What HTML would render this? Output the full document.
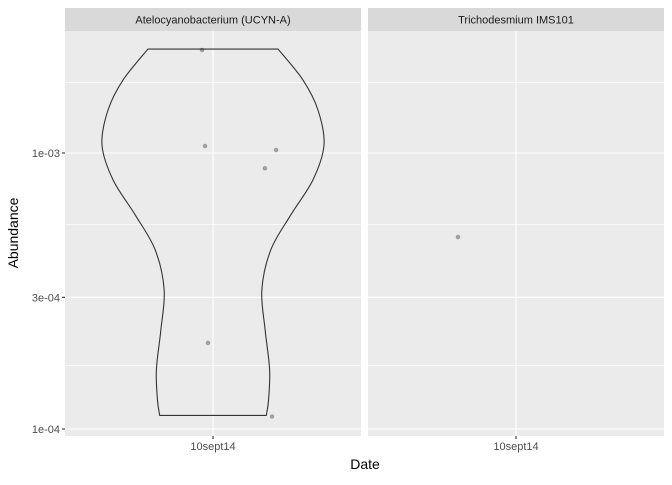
<!DOCTYPE html>
<html><head><meta charset="utf-8"><style>
body{margin:0;background:#fff;font-family:"Liberation Sans",sans-serif}
svg text{font-family:"Liberation Sans",sans-serif}
</style></head><body>
<svg id="c" width="672" height="480" xmlns="http://www.w3.org/2000/svg"></svg>
<script>
const panels=["Atelocyanobacterium (UCYN-A)","Trichodesmium IMS101"];
const category="10sept14";
const yTicks=[1e-4,3e-4,1e-3];
const yTickLabels=["1e-04","3e-04","1e-03"];
const yMinor=[1.7e-4,5.5e-4,1.8e-3];
const pointPanel=[0,0,0,0,0,0,1];
const pointValues=[2.36e-3,1.06e-3,1.025e-3,8.8e-4,2.05e-4,1.11e-4,4.96e-4];
const pointJitter=[-0.074,-0.054,0.426,0.351,-0.034,0.399,-0.392];
const violinValues=[2.38e-3,1.84e-3,1.43e-3,1.07e-3,7.98e-4,5.96e-4,4.45e-4,3.19e-4,2.28e-4,1.64e-4,1.27e-4,1.12e-4];
const violinDensity=[0.586,0.81,0.946,1,0.9,0.70,0.52,0.44,0.47,0.51,0.50,0.48];
const NS="http://www.w3.org/2000/svg",svg=document.getElementById('c');
function el(t,a,p){const e=document.createElementNS(NS,t);for(const k in a)e.setAttribute(k,a[k]);(p||svg).appendChild(e);return e;}
const PX=[65,368],PW=296,PT=31,PB=436;
const y=v=>429-(Math.log10(v)+4)*276;
const xc=i=>PX[i]+PW/2;
const xj=(i,j)=>xc(i)+j*PW/2;
panels.forEach((name,i)=>{
  const g=el('g',{});
  
  
  const strip=el('rect',{x:PX[i],y:8,width:PW,height:PT-8,fill:'#d9d9d9'},g);
  
  
  const st=el('text',{x:xc(i),y:23.5,'text-anchor':'middle','font-size':11,fill:'#1a1a1a'},g);st.textContent=name;
  
  
  const bg=el('rect',{x:PX[i],y:PT,width:PW,height:PB-PT,fill:'#ebebeb'},g);
  
  
  yMinor.forEach(v=>el('line',{x1:PX[i],x2:PX[i]+PW,y1:y(v),y2:y(v),stroke:'#fff','stroke-width':0.6},g));
  yTicks.forEach(v=>el('line',{x1:PX[i],x2:PX[i]+PW,y1:y(v),y2:y(v),stroke:'#fff','stroke-width':1.1},g));
  el('line',{x1:xc(i),x2:xc(i),y1:PT,y2:PB,stroke:'#fff','stroke-width':1.1},g);
  el('line',{x1:xc(i),x2:xc(i),y1:PB,y2:PB+3,stroke:'#333','stroke-width':1.1},g);
  const xt=el('text',{x:xc(i),y:PB+14,'text-anchor':'middle','font-size':11,fill:'#4d4d4d'},g);xt.textContent=category;
  
  
});
const hw=111;
let L=violinValues.map((v,k)=>[xc(0)-violinDensity[k]*hw,y(v)]);
let R=violinValues.map((v,k)=>[xc(0)+violinDensity[k]*hw,y(v)]).reverse();
function smooth(pts){let d='';for(let k=0;k<pts.length-1;k++){const p0=pts[Math.max(k-1,0)],p1=pts[k],p2=pts[k+1],p3=pts[Math.min(k+2,pts.length-1)];
 const c1=[p1[0]+(p2[0]-p0[0])/6,p1[1]+(p2[1]-p0[1])/6],c2=[p2[0]-(p3[0]-p1[0])/6,p2[1]-(p3[1]-p1[1])/6];
 d+=` C${c1} ${c2} ${p2}`;}return d;}
const d=`M${L[0]}`+smooth(L)+` L${R[0]}`+smooth(R)+' Z';
const vp=el('path',{d:d,fill:'none',stroke:'#333','stroke-width':1.1});


pointValues.forEach((v,k)=>{
  const c=el('circle',{cx:xj(pointPanel[k],pointJitter[k]),cy:y(v),r:1.9,fill:'#000','fill-opacity':0.3,stroke:'#000','stroke-opacity':0.15});
  
  
});
yTicks.forEach((v,k)=>{
  el('line',{x1:62,x2:65,y1:y(v),y2:y(v),stroke:'#333','stroke-width':1.1});
  const t=el('text',{x:60,y:y(v)+4,'text-anchor':'end','font-size':11,fill:'#4d4d4d'});t.textContent=yTickLabels[k];
  
  
});
const xtitle=el('text',{x:365,y:469,'text-anchor':'middle','font-size':14,fill:'#000'});xtitle.textContent='Date';


const ytitle=el('text',{x:0,y:0,'text-anchor':'middle','font-size':14,fill:'#000',transform:'translate(18,233) rotate(-90)'});ytitle.textContent='Abundance';


</script>
</body></html>
